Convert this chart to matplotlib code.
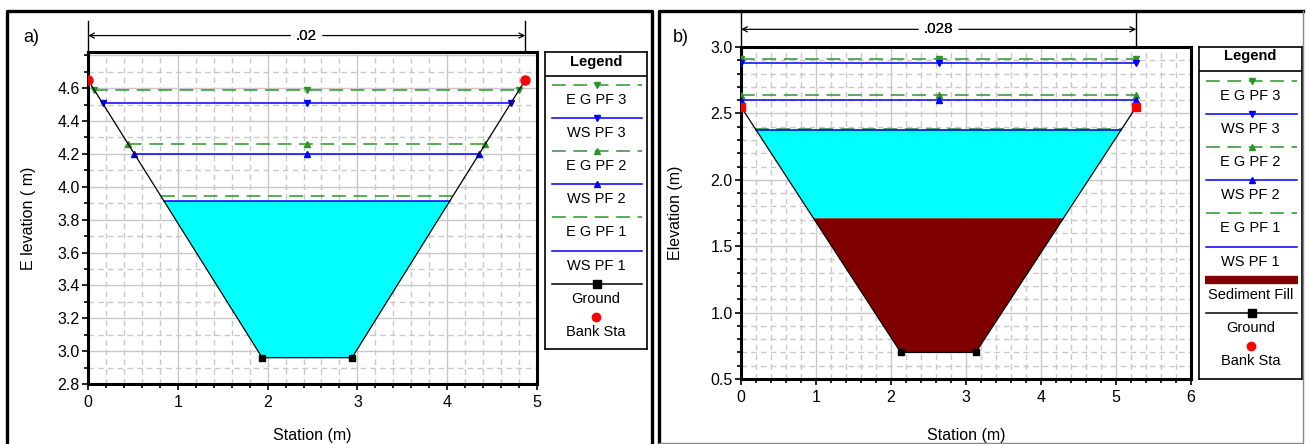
#!/usr/bin/env python3
"""
Two HEC-RAS style cross sections: a) clean channel, b) channel with sediment fill
"""

import numpy as np
import matplotlib
matplotlib.use('Agg')
import matplotlib.pyplot as plt
from matplotlib.lines import Line2D
from matplotlib.ticker import MultipleLocator, FormatStrFormatter

plt.rcParams['font.family'] = ['Liberation Sans', 'DejaVu Sans']

# ---- data ----
# panel a
A_GROUND_X = [0.0, 1.94, 2.94, 4.87]
A_GROUND_Y = [4.65, 2.96, 2.96, 4.65]
A_EG = [3.945, 4.258, 4.588]   # PF1, PF2, PF3
A_WS = [3.913, 4.199, 4.507]
A_N = '.02'

# panel b
B_GROUND_X = [0.0, 2.13, 3.13, 5.27]
B_GROUND_Y = [2.55, 0.70, 0.70, 2.55]
B_EG = [2.386, 2.639, 2.913]
B_WS = [2.378, 2.599, 2.877]
B_SED = 1.71
B_N = '.028'

GREEN = '#2a962a'
BLUE = '#0000ff'
CYAN = '#00ffff'
SED = '#800000'
GRID = '#c8c8c8'

W, H = 1306, 444


def px_axes(fig, x0, y0, x1, y1):
    """Add axes given pixel box (top-left origin)"""
    return fig.add_axes([x0 / W, 1 - y1 / H, (x1 - x0) / W, (y1 - y0) / H])


def bank_hits(level, gx, gy):
    """Where a horizontal level meets the left and right channel banks"""
    gx = np.asarray(gx)
    gy = np.asarray(gy)
    i = int(np.argmin(gy))
    j = len(gy) - 1 - int(np.argmin(gy[::-1]))
    xl = np.interp(level, gy[:i + 1][::-1], gx[:i + 1][::-1])
    xr = np.interp(level, gy[j:], gx[j:])
    return xl, xr


def style_axes(ax, xlim, ylim, yticks, ymajor_grid, yminor):
    ax.set_xlim(*xlim)
    ax.set_ylim(*ylim)
    ax.xaxis.set_major_locator(MultipleLocator(1))
    ax.xaxis.set_minor_locator(MultipleLocator(0.2))
    ax.set_yticks(yticks)
    ax.yaxis.set_minor_locator(MultipleLocator(yminor))
    ax.yaxis.set_major_formatter(FormatStrFormatter('%.1f'))
    ax.tick_params(which='major', direction='out', length=4, width=1.2,
                   labelsize=11.5, pad=2)
    ax.tick_params(which='minor', direction='out', length=3, width=1.2)
    ax.tick_params(axis='x', pad=4)
    for s in ax.spines.values():
        s.set_linewidth(2.2)
    # grid: solid majors, dashed minors
    for xv in np.arange(xlim[0], xlim[1] + 1e-9, 0.2):
        on_major = abs(xv - round(xv)) < 1e-6
        ax.axvline(xv, color=GRID, lw=1.0, ls='-' if on_major else (0, (4, 3)), zorder=0)
    for yv in np.arange(ylim[0], ylim[1] + 1e-9, yminor):
        on_major = abs(yv / ymajor_grid - round(yv / ymajor_grid)) < 1e-6
        ax.axhline(yv, color=GRID, lw=1.0, ls='-' if on_major else (0, (4, 3)), zorder=0)


def draw_profiles(ax, gx, gy, eg, ws):
    mid = (gx[0] + gx[-1]) / 2
    marks = [None, '^', 'v']
    for k in range(3):
        for lev, col, ls in ((eg[k], GREEN, (0, (9, 5))), (ws[k], BLUE, '-')):
            xl, xr = bank_hits(lev, gx, gy)
            ax.plot([xl, xr], [lev, lev], color=col, lw=1.1, ls=ls, zorder=4)
            if marks[k]:
                ax.plot([xl, mid, xr], [lev] * 3, ls='none', marker=marks[k],
                        ms=5, color=col, zorder=5)


def draw_ground(ax, gx, gy, bank_marker):
    ax.plot(gx, gy, color='black', lw=0.9, marker='s', ms=5, zorder=6)
    ax.plot([gx[0], gx[-1]], [gy[0], gy[-1]], ls='none', marker=bank_marker,
            ms=6.5 if bank_marker == 'o' else 5.5, color='red', zorder=7)


def draw_n_label(ax, gx, text, y_arrow, y_top, y_axes_top):
    mid = (gx[0] + gx[-1]) / 2
    for xe in (gx[0], gx[-1]):
        ax.plot([xe, xe], [y_axes_top, y_top], color='black', lw=1.0, clip_on=False)
        ax.annotate(text, xy=(xe, y_arrow), xytext=(mid, y_arrow),
                    ha='center', va='center', fontsize=11, annotation_clip=False,
                    arrowprops=dict(arrowstyle='->', lw=0.9, color='black',
                                    shrinkB=0, mutation_scale=9))


def draw_legend(lax, top, bottom, header_y, divider_y, first_y, entries):
    lax.set_xlim(0, 1)
    lax.set_ylim(bottom, top)
    lax.set_xticks([])
    lax.set_yticks([])
    for s in lax.spines.values():
        s.set_linewidth(1.2)
    lax.text(0.5, header_y, 'Legend', ha='center', va='center', fontsize=10.5,
             fontweight='bold')
    lax.axhline(divider_y, color='black', lw=1.2)
    step = 33.1
    for i, (label, kind) in enumerate(entries):
        y = first_y + i * step
        if kind == 'bank':
            lax.plot([0.5], [y], marker='o', ms=6, color='red', ls='none')
        elif kind == 'sed':
            lax.plot([0.06, 0.96], [y, y], color=SED, lw=6, solid_capstyle='butt')
        else:
            col, ls, mk = kind
            lax.plot([0.07, 0.95], [y, y], color=col, ls=ls, lw=1.1)
            if mk:
                lax.plot([0.51], [y], marker=mk, ms=5 if mk != 's' else 5.5,
                         color=col, ls='none')
        lax.text(0.5, y + 15, label, ha='center', va='center', fontsize=10.5)


def main():
    fig = plt.figure(figsize=(W / 100, H / 100), dpi=100)

    # panel frames
    def fline(x, y, **kw):
        fig.add_artist(Line2D(np.array(x) / W, 1 - np.array(y) / H, **kw))
    fline([7, 7, 652, 652], [444, 11, 11, 444], color='black', lw=2.4)
    fline([659, 659, 1303], [444, 11, 11], color='black', lw=2.4)
    fline([1303, 1303, 659], [11, 443, 443], color='#888888', lw=1.0)

    base_entries = [
        ('E G PF 3', (GREEN, (0, (9, 5)), 'v')),
        ('WS PF 3', (BLUE, '-', 'v')),
        ('E G PF 2', (GREEN, (0, (9, 5)), '^')),
        ('WS PF 2', (BLUE, '-', '^')),
        ('E G PF 1', (GREEN, (0, (9, 5)), None)),
        ('WS PF 1', (BLUE, '-', None)),
    ]

    # ---- panel a ----
    ax = px_axes(fig, 88, 52, 537, 384)
    style_axes(ax, (0, 5), (2.8, 4.82), np.arange(2.8, 4.61, 0.2), 0.2, 0.1)
    xl, xr = bank_hits(A_WS[0], A_GROUND_X, A_GROUND_Y)
    inner = [(x, y) for x, y in zip(A_GROUND_X, A_GROUND_Y) if y < A_WS[0]]
    poly = [(xl, A_WS[0])] + inner + [(xr, A_WS[0])]
    ax.fill([p[0] for p in poly], [p[1] for p in poly], color=CYAN, lw=0, zorder=2)
    draw_profiles(ax, A_GROUND_X, A_GROUND_Y, A_EG, A_WS)
    draw_ground(ax, A_GROUND_X, A_GROUND_Y, 'o')
    draw_n_label(ax, A_GROUND_X, A_N, 4.92, 5.01, 4.82)
    ax.set_ylabel('E levation ( m)', fontsize=11.5)
    ax.yaxis.set_label_coords(-0.116, 0.5)
    ax.set_xlabel('Station (m)', fontsize=11.5)
    ax.xaxis.set_label_coords(0.5, -0.132)
    fig.text(31 / W, 1 - 38 / H, 'a)', fontsize=13, ha='center', va='center')

    lax = px_axes(fig, 545, 52, 647, 349)
    draw_legend(lax, 52, 349, 62, 76, 85,
                base_entries + [('Ground', ('black', '-', 's')),
                                ('Bank Sta', 'bank')])

    # ---- panel b ----
    bx = px_axes(fig, 741, 47, 1191, 379)
    style_axes(bx, (0, 6), (0.5, 3.0), np.arange(0.5, 3.01, 0.5), 0.5, 0.1)
    wl, wr = bank_hits(B_WS[0], B_GROUND_X, B_GROUND_Y)
    sl, sr = bank_hits(B_SED, B_GROUND_X, B_GROUND_Y)
    bx.fill([wl, sl, sr, wr], [B_WS[0], B_SED, B_SED, B_WS[0]], color=CYAN, lw=0, zorder=2)
    inner = [(x, y) for x, y in zip(B_GROUND_X, B_GROUND_Y) if y < B_SED]
    poly = [(sl, B_SED)] + inner + [(sr, B_SED)]
    bx.fill([p[0] for p in poly], [p[1] for p in poly], color=SED, lw=0, zorder=2)
    draw_profiles(bx, B_GROUND_X, B_GROUND_Y, B_EG, B_WS)
    draw_ground(bx, B_GROUND_X, B_GROUND_Y, 's')
    draw_n_label(bx, B_GROUND_X, B_N, 3.133, 3.254, 3.0)
    bx.set_ylabel('Elevation (m)', fontsize=11.5)
    bx.yaxis.set_label_coords(-0.128, 0.5)
    bx.set_xlabel('Station (m)', fontsize=11.5)
    bx.xaxis.set_label_coords(0.5, -0.148)
    fig.text(681 / W, 1 - 37 / H, 'b)', fontsize=13, ha='center', va='center')

    lbx = px_axes(fig, 1199, 47, 1302, 379)
    draw_legend(lbx, 47, 379, 56, 71, 81,
                base_entries + [('Sediment Fill', 'sed'),
                                ('Ground', ('black', '-', 's')),
                                ('Bank Sta', 'bank')])

    fig.savefig('out.png', dpi=100)
    print("Figure saved to out.png")


if __name__ == '__main__':
    main()
